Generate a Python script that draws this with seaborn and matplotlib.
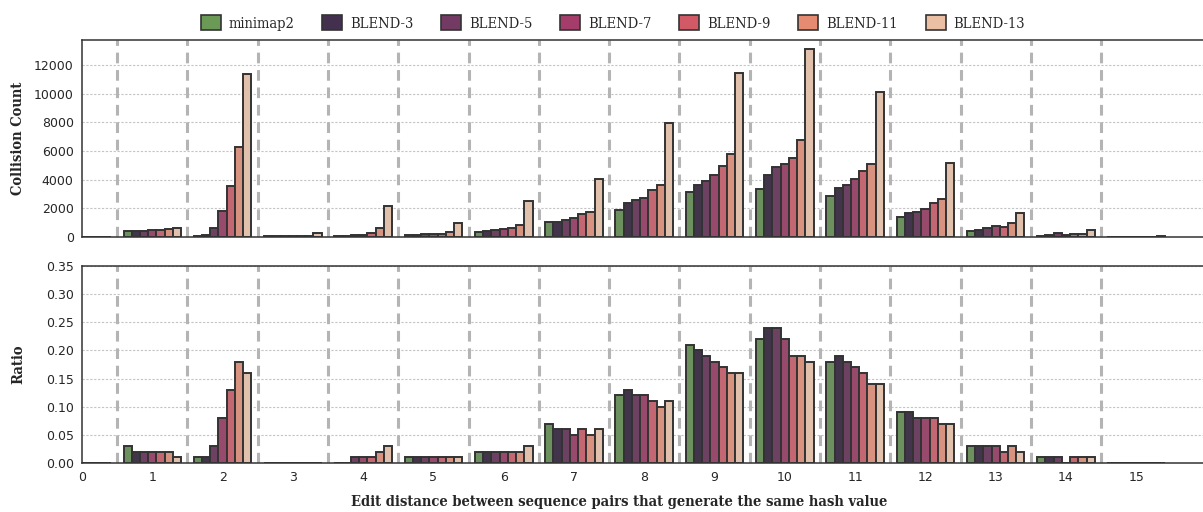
import numpy as np
import pandas as pd
import matplotlib
matplotlib.use("Agg")
import matplotlib.pyplot as plt
import seaborn as sns

distances = list(range(16))
methods = ["minimap2", "BLEND-3", "BLEND-5", "BLEND-7", "BLEND-9", "BLEND-11", "BLEND-13"]
colors = ["#6a9a55", "#43304f", "#733a64", "#a53d6a", "#d25966", "#e58b71", "#eabfa3"]

# Collision counts per edit distance (distance 0..15)
count_minimap2 = [0, 400, 100, 60, 40, 160, 370, 1020, 1910, 3140, 3350, 2840, 1420, 395, 90, 15]
count_blend3 = [0, 390, 150, 70, 60, 120, 400, 1070, 2370, 3630, 4300, 3420, 1675, 490, 115, 20]
count_blend5 = [0, 450, 630, 70, 110, 230, 490, 1210, 2560, 3910, 4910, 3650, 1745, 605, 255, 25]
count_blend7 = [0, 500, 1790, 90, 130, 230, 580, 1300, 2745, 4300, 5090, 4070, 1980, 745, 160, 20]
count_blend9 = [0, 490, 3580, 80, 280, 190, 605, 1580, 3260, 4950, 5490, 4630, 2370, 700, 230, 20]
count_blend11 = [0, 540, 6300, 80, 630, 330, 815, 1720, 3600, 5770, 6750, 5100, 2650, 1000, 185, 30]
count_blend13 = [0, 650, 11350, 280, 2140, 1000, 2510, 4050, 7930, 11470, 13100, 10140, 5140, 1700, 490, 40]

# Ratios per edit distance
ratio_minimap2 = [0, 0.03, 0.01, 0, 0, 0.01, 0.02, 0.07, 0.12, 0.21, 0.22, 0.18, 0.09, 0.03, 0.01, 0]
ratio_blend3 = [0, 0.02, 0.01, 0, 0, 0.01, 0.02, 0.06, 0.13, 0.20, 0.24, 0.19, 0.09, 0.03, 0.01, 0]
ratio_blend5 = [0, 0.02, 0.03, 0, 0.01, 0.01, 0.02, 0.06, 0.12, 0.19, 0.24, 0.18, 0.08, 0.03, 0.01, 0]
ratio_blend7 = [0, 0.02, 0.08, 0, 0.01, 0.01, 0.02, 0.05, 0.12, 0.18, 0.22, 0.17, 0.08, 0.03, 0, 0]
ratio_blend9 = [0, 0.02, 0.13, 0, 0.01, 0.01, 0.02, 0.06, 0.11, 0.17, 0.19, 0.16, 0.08, 0.02, 0.01, 0]
ratio_blend11 = [0, 0.02, 0.18, 0, 0.02, 0.01, 0.02, 0.05, 0.10, 0.16, 0.19, 0.14, 0.07, 0.03, 0.01, 0]
ratio_blend13 = [0, 0.01, 0.16, 0, 0.03, 0.01, 0.03, 0.06, 0.11, 0.16, 0.18, 0.14, 0.07, 0.02, 0.01, 0]

count_ticks = [0, 2000, 4000, 6000, 8000, 10000, 12000]
ratio_ticks = [0, 0.05, 0.10, 0.15, 0.20, 0.25, 0.30, 0.35]

counts = [count_minimap2, count_blend3, count_blend5, count_blend7, count_blend9, count_blend11, count_blend13]
ratios = [ratio_minimap2, ratio_blend3, ratio_blend5, ratio_blend7, ratio_blend9, ratio_blend11, ratio_blend13]

rows = []
for m, c, r in zip(methods, counts, ratios):
    for d, cv, rv in zip(distances, c, r):
        rows.append({"distance": d, "method": m, "count": cv, "ratio": rv})
df = pd.DataFrame(rows)

sns.set_style("white")
plt.rcParams["font.family"] = ["DejaVu Sans"]

serif_label = dict(family="DejaVu Serif", fontweight="bold", fontsize=10.5, fontstretch="condensed")

fig = plt.figure(figsize=(12.03, 5.12), dpi=100)
ax1 = fig.add_axes([0.0682, 0.537, 0.9318, 0.385])
ax2 = fig.add_axes([0.0682, 0.0957, 0.9318, 0.385])

for ax, col in [(ax1, "count"), (ax2, "ratio")]:
    sns.barplot(data=df, x="distance", y=col, hue="method", hue_order=methods,
                palette=colors, order=distances, width=0.82, errorbar=None,
                edgecolor="#333333", linewidth=1.4, ax=ax, zorder=3)
    ax.set_xlim(0, 15.95)
    for b in np.arange(0.5, 15, 1.0):
        ax.axvline(b, color="#b4b4b4", lw=2.2, dashes=(3.5, 2.2), zorder=1)
    ax.yaxis.grid(True, color="#c4c4c4", linestyle=(0, (2, 1.5)), lw=0.8, zorder=0)
    ax.xaxis.grid(False)
    for s in ax.spines.values():
        s.set_color("#333333")
        s.set_linewidth(1.1)
    ax.spines["right"].set_visible(False)
    ax.tick_params(axis="both", direction="in", length=4, width=0.8, color="#222222",
                   labelsize=9, pad=6)
    ax.get_legend().remove()

ax1.set_ylim(0, 13755)
ax1.set_yticks(count_ticks)
ax1.set_xticks(distances)
ax1.set_xticklabels([])
ax1.set_xlabel("")
ax1.set_ylabel("Collision Count", **serif_label)
ax1.yaxis.set_label_coords(-0.051, 0.5)

ax2.set_ylim(0, 0.35)
ax2.set_yticks(ratio_ticks)
ax2.set_yticklabels([f"{t:.2f}" for t in ratio_ticks])
ax2.set_xticks(distances)
ax2.set_xticklabels([str(d) for d in distances])
ax2.set_ylabel("Ratio", **serif_label)
ax2.yaxis.set_label_coords(-0.051, 0.5)
ax2.set_xlabel("Edit distance between sequence pairs that generate the same hash value",
               labelpad=8, **serif_label)
ax2.xaxis.label.set_x(0.479)

handles = [matplotlib.patches.Patch(facecolor=c, edgecolor="#333333", linewidth=1.2) for c in colors]
fig.legend(handles, methods, loc="center", bbox_to_anchor=(0.5095, 0.955), ncol=7,
           frameon=False, prop={"family": "DejaVu Serif", "size": 10.5, "stretch": "condensed"},
           handlelength=1.37, handleheight=1.16, columnspacing=1.9, handletextpad=0.55)

fig.savefig("out.png", dpi=100)
